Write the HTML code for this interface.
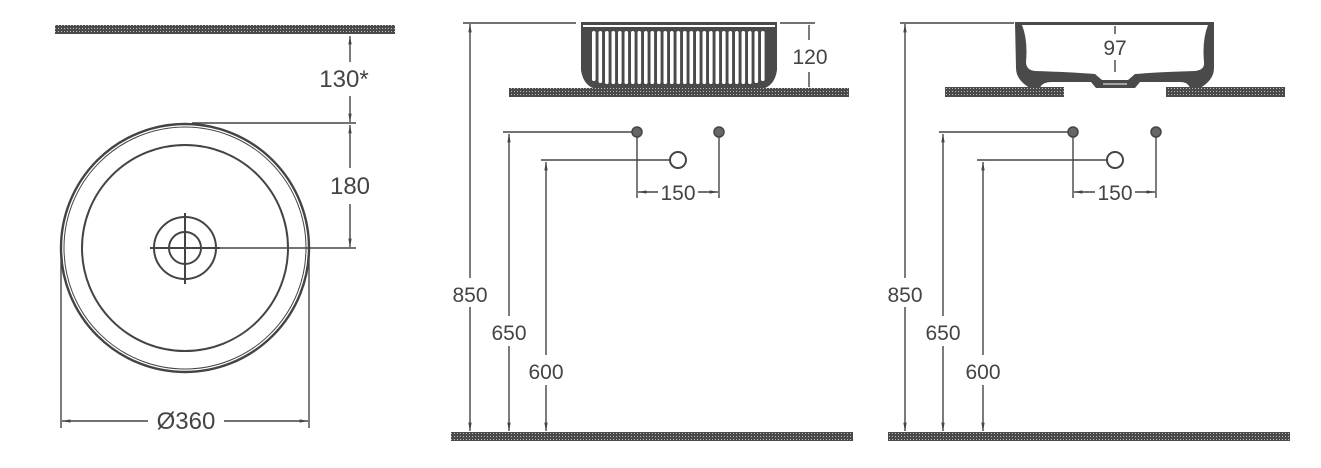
<!DOCTYPE html>
<html><head><meta charset="utf-8"><style>
html,body{margin:0;padding:0;background:#fff;}
svg{display:block;}
text{font-family:"Liberation Sans",sans-serif;fill:#444;}
</style></head><body>
<svg width="1321" height="468" viewBox="0 0 1321 468" xmlns="http://www.w3.org/2000/svg">
<defs>
<pattern id="dots" width="3" height="3" patternUnits="userSpaceOnUse">
<rect width="3" height="3" fill="#4a4a4a"/>
<rect x="1" y="1" width="1" height="1" fill="#bbb"/>
</pattern>
<marker id="ar" viewBox="0 0 10 10" refX="10" refY="5" markerWidth="6" markerHeight="6" orient="auto-start-reverse">
<path d="M0,3 L10,5 L0,7 z" fill="#444"/>
</marker>
</defs>
<g stroke="#444" stroke-width="1.4" fill="none">
<!-- LEFT VIEW -->
<rect x="55" y="25" width="340" height="9" fill="url(#dots)" stroke="none"/>
<circle cx="185" cy="248" r="124" stroke-width="2.4"/>
<circle cx="185" cy="248" r="121" stroke-width="1"/>
<circle cx="185" cy="248" r="103" stroke-width="2"/>
<circle cx="185" cy="248" r="31" stroke-width="2"/>
<circle cx="185" cy="248" r="16" stroke-width="2"/>
<line x1="185" y1="213" x2="185" y2="284" stroke-width="2"/>
<line x1="150" y1="248" x2="220" y2="248" stroke-width="2"/>
<line x1="218" y1="248" x2="356" y2="248"/>
<line x1="192" y1="123" x2="356" y2="123"/>
<line x1="350" y1="36" x2="350" y2="62" marker-start="url(#ar)"/>
<line x1="350" y1="96" x2="350" y2="122" marker-end="url(#ar)"/>
<line x1="350" y1="125" x2="350" y2="168" marker-start="url(#ar)"/>
<line x1="350" y1="204" x2="350" y2="247" marker-end="url(#ar)"/>
<line x1="61" y1="252" x2="61" y2="428"/>
<line x1="309" y1="252" x2="309" y2="428"/>
<line x1="62" y1="421" x2="148" y2="421" marker-start="url(#ar)"/>
<line x1="224" y1="421" x2="308" y2="421" marker-end="url(#ar)"/>

<!-- MIDDLE VIEW -->
<rect x="451" y="432" width="402" height="9" fill="url(#dots)" stroke="none"/>
<rect x="509" y="88" width="340" height="9" fill="url(#dots)" stroke="none"/>
<path d="M581,22 H777 V70 Q775,84 765,88 H593 Q583,84 581,70 Z" fill="#4a4a4a" stroke="none"/>
<rect x="583" y="25" width="192" height="2" fill="#fff" stroke="none"/>
<g fill="#fff" stroke="none">
<rect x="592" y="31" width="3.6" height="50" rx="1.8"/>
<rect x="598.5" y="31" width="3.6" height="52" rx="1.8"/>
<rect x="605" y="31" width="3.6" height="53" rx="1.8"/>
<rect x="611.5" y="31" width="3.6" height="53" rx="1.8"/>
<rect x="618" y="31" width="3.6" height="53" rx="1.8"/>
<rect x="624.5" y="31" width="3.6" height="53" rx="1.8"/>
<rect x="631" y="31" width="3.6" height="53" rx="1.8"/>
<rect x="637.5" y="31" width="3.6" height="53" rx="1.8"/>
<rect x="644" y="31" width="3.6" height="53" rx="1.8"/>
<rect x="650.5" y="31" width="3.6" height="53" rx="1.8"/>
<rect x="657" y="31" width="3.6" height="53" rx="1.8"/>
<rect x="663.5" y="31" width="3.6" height="53" rx="1.8"/>
<rect x="670" y="31" width="3.6" height="53" rx="1.8"/>
<rect x="676.5" y="31" width="3.6" height="53" rx="1.8"/>
<rect x="683" y="31" width="3.6" height="53" rx="1.8"/>
<rect x="689.5" y="31" width="3.6" height="53" rx="1.8"/>
<rect x="696" y="31" width="3.6" height="53" rx="1.8"/>
<rect x="702.5" y="31" width="3.6" height="53" rx="1.8"/>
<rect x="709" y="31" width="3.6" height="53" rx="1.8"/>
<rect x="715.5" y="31" width="3.6" height="53" rx="1.8"/>
<rect x="722" y="31" width="3.6" height="53" rx="1.8"/>
<rect x="728.5" y="31" width="3.6" height="53" rx="1.8"/>
<rect x="735" y="31" width="3.6" height="53" rx="1.8"/>
<rect x="741.5" y="31" width="3.6" height="53" rx="1.8"/>
<rect x="748" y="31" width="3.6" height="53" rx="1.8"/>
<rect x="754.5" y="31" width="3.6" height="52" rx="1.8"/>
<rect x="761" y="31" width="3.6" height="50" rx="1.8"/>
</g>
<line x1="463" y1="23" x2="576" y2="23"/>
<line x1="780" y1="23" x2="815" y2="23"/>
<line x1="809" y1="25" x2="809" y2="40"/>
<line x1="809" y1="72" x2="809" y2="87"/>
<line x1="470" y1="24" x2="470" y2="278" marker-start="url(#ar)"/>
<line x1="470" y1="307" x2="470" y2="431" marker-end="url(#ar)"/>
<line x1="503" y1="132" x2="636" y2="132"/>
<line x1="509" y1="134" x2="509" y2="316" marker-start="url(#ar)"/>
<line x1="509" y1="346" x2="509" y2="431" marker-end="url(#ar)"/>
<line x1="541" y1="160" x2="670" y2="160"/>
<line x1="546" y1="162" x2="546" y2="355" marker-start="url(#ar)"/>
<line x1="546" y1="385" x2="546" y2="431" marker-end="url(#ar)"/>
<circle cx="637" cy="132" r="5" fill="#666" stroke="#444" stroke-width="1.5"/>
<circle cx="719" cy="132" r="5" fill="#666" stroke="#444" stroke-width="1.5"/>
<circle cx="678" cy="160" r="8" stroke-width="2"/>
<line x1="637" y1="137" x2="637" y2="198"/>
<line x1="719" y1="137" x2="719" y2="198"/>
<line x1="638" y1="192" x2="658" y2="192" marker-start="url(#ar)"/>
<line x1="698" y1="192" x2="718" y2="192" marker-end="url(#ar)"/>

<!-- RIGHT VIEW -->
<rect x="888" y="432" width="402" height="9" fill="url(#dots)" stroke="none"/>
<rect x="945" y="87" width="119" height="10" fill="url(#dots)" stroke="none"/>
<rect x="1166" y="87" width="119" height="10" fill="url(#dots)" stroke="none"/>
<path d="M1015,22 H1214 V68 Q1214,80 1200,88 H1190 Q1188,82 1180,82 H1140 L1135,88 H1096 L1091,82 H1052 Q1042,82 1040,88 H1030 Q1016,80 1016,68 Z" fill="#4a4a4a" stroke="none"/>
<path d="M1022,25 H1208 Q1202,40 1204,62 Q1205,70 1195,71 Q1160,72 1135,74 L1128,80 H1102 L1095,74 Q1070,72 1035,71 Q1026,70 1026,62 Q1028,40 1022,25 Z" fill="#fff" stroke="none"/>
<line x1="1103" y1="84" x2="1127" y2="84" stroke="#fff" stroke-width="1"/>
<line x1="900" y1="23" x2="1014" y2="23"/>
<line x1="1115" y1="26" x2="1115" y2="34"/>
<line x1="1115" y1="60" x2="1115" y2="72"/>
<line x1="905" y1="24" x2="905" y2="278" marker-start="url(#ar)"/>
<line x1="905" y1="307" x2="905" y2="431" marker-end="url(#ar)"/>
<line x1="939" y1="132" x2="1072" y2="132"/>
<line x1="943" y1="134" x2="943" y2="316" marker-start="url(#ar)"/>
<line x1="943" y1="346" x2="943" y2="431" marker-end="url(#ar)"/>
<line x1="977" y1="160" x2="1107" y2="160"/>
<line x1="983" y1="162" x2="983" y2="355" marker-start="url(#ar)"/>
<line x1="983" y1="385" x2="983" y2="431" marker-end="url(#ar)"/>
<circle cx="1073" cy="132" r="5" fill="#666" stroke="#444" stroke-width="1.5"/>
<circle cx="1156" cy="132" r="5" fill="#666" stroke="#444" stroke-width="1.5"/>
<circle cx="1115" cy="160" r="8" stroke-width="2"/>
<line x1="1073" y1="137" x2="1073" y2="198"/>
<line x1="1156" y1="137" x2="1156" y2="198"/>
<line x1="1074" y1="192" x2="1095" y2="192" marker-start="url(#ar)"/>
<line x1="1135" y1="192" x2="1155" y2="192" marker-end="url(#ar)"/>
</g>
<g font-size="24" text-anchor="middle">
<text x="344" y="87">130*</text>
<text x="350" y="194">180</text>
<text x="186" y="429">Ø360</text>
</g>
<g font-size="21" text-anchor="middle">
<text x="470" y="302">850</text>
<text x="509" y="340">650</text>
<text x="546" y="379">600</text>
<text x="678" y="200">150</text>
<text x="810" y="64">120</text>
<text x="905" y="302">850</text>
<text x="943" y="340">650</text>
<text x="983" y="379">600</text>
<text x="1115" y="200">150</text>
<text x="1115" y="55">97</text>
</g>
</svg>
</body></html>
